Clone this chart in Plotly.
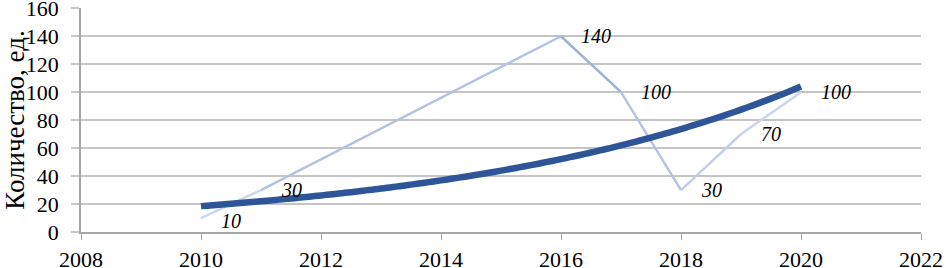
import numpy as np
import plotly.graph_objects as go

# Data
years = [2010, 2011, 2016, 2017, 2018, 2019, 2020]
values = [10, 30, 140, 100, 30, 70, 100]
labels = ["10", "30", "140", "100", "30", "70", "100"]
x_ticks = [2008, 2010, 2012, 2014, 2016, 2018, 2020, 2022]
y_ticks = [0, 20, 40, 60, 80, 100, 120, 140, 160]

# Gradient-like colours of the light line, one per segment
seg_colors = ["#cdd6ee", "#b3c2e3", "#9fb1d8", "#b4c2e3", "#c3cdea", "#cbd4ee"]

fig = go.Figure()

for i in range(len(years) - 1):
    fig.add_trace(go.Scatter(
        x=years[i:i + 2], y=values[i:i + 2], mode="lines",
        line=dict(color=seg_colors[i], width=2.5),
        showlegend=False, hoverinfo="skip", cliponaxis=False))

# Exponential trend line fitted to the data (as Excel does)
b, ln_a = np.polyfit(np.array(years) - years[0], np.log(values), 1)
tx = np.linspace(years[0], years[-1], 101)
ty = np.exp(ln_a + b * (tx - years[0]))
fig.add_trace(go.Scatter(
    x=tx, y=ty, mode="lines",
    line=dict(color="#2e5597", width=6.5, shape="spline"),
    showlegend=False, hoverinfo="skip"))

for xv, yv, lab in zip(years, values, labels):
    fig.add_annotation(
        x=xv, y=yv, text=lab, showarrow=False, xanchor="left",
        yanchor="middle", xshift=18, yshift=-3 if lab == "10" else 0,
        font=dict(family="Liberation Serif", size=20, color="#000000",
                  style="italic"))

fig.update_layout(
    width=946, height=268,
    margin=dict(l=81, r=25, t=8, b=36),
    paper_bgcolor="white", plot_bgcolor="white",
    font=dict(family="Liberation Serif", size=22, color="#000000"),
)

fig.update_xaxes(
    range=[2008, 2022], tickvals=x_ticks, ticktext=[str(v) for v in x_ticks],
    showgrid=False, showline=True, linecolor="#a6a6a6", linewidth=1.5,
    ticks="outside", ticklen=6, tickcolor="#a6a6a6", tickwidth=1,
    zeroline=False, tickfont=dict(size=22), automargin=False,
    ticklabelstandoff=1, ticklabeloverflow="allow")
fig.update_yaxes(
    range=[0, 160.2], tickvals=y_ticks,
    showgrid=True, gridcolor="#c4c4c4", gridwidth=1.5,
    showline=True, linecolor="#a6a6a6", linewidth=1.5,
    ticks="outside", ticklen=8, tickcolor="#c4c4c4", tickwidth=1.5,
    zeroline=False, tickfont=dict(size=22), automargin=False,
    ticklabelstandoff=8, ticklabeloverflow="allow",
    title=dict(text="Количество, ед.", font=dict(size=27), standoff=9))

fig.write_html("out.html", config={"displayModeBar": False})

# Remove the default page margin so the figure fills the window exactly
with open("out.html", "r", encoding="utf-8") as f:
    html = f.read()
html = html.replace("<body>", '<body style="margin:0;padding:0;">', 1)
html = html.replace("<head>", "<head><style>html,body{margin:0;padding:0;overflow:hidden;}</style>", 1)
with open("out.html", "w", encoding="utf-8") as f:
    f.write(html)
